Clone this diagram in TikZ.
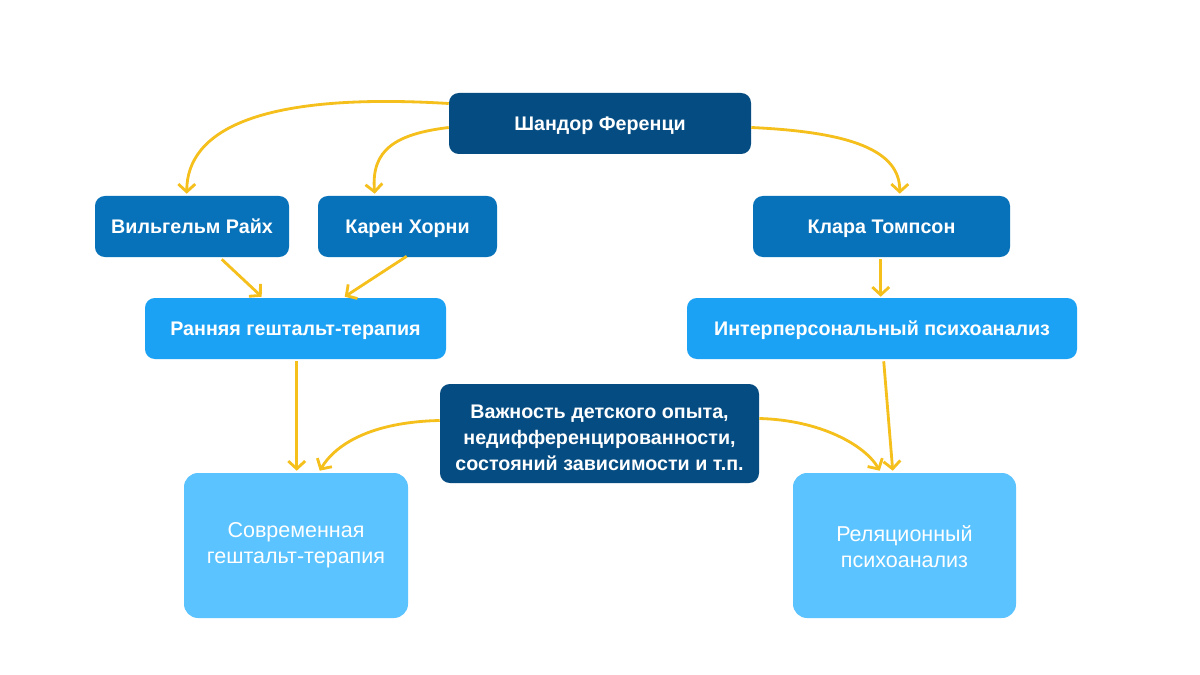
\documentclass[tikz,border=0pt]{standalone}
\usepackage{fontspec}
\setmainfont{Liberation Sans}
\usetikzlibrary{arrows.meta,calc}
\definecolor{cnavy}{HTML}{044C82}
\definecolor{cmid}{HTML}{0772BA}
\definecolor{clight}{HTML}{1CA2F4}
\definecolor{cpale}{HTML}{5BC3FF}
\definecolor{carrow}{HTML}{F5BF1C}
\begin{document}
\begin{tikzpicture}[x=0.025cm,y=-0.025cm,
  box/.style={rectangle,rounded corners=7pt,text=white,inner sep=0pt,align=center,
     font=\bfseries\fontsize{14}{18.5}\selectfont},
  oneline/.style={text height=10pt,text depth=0pt},
  navybox/.style={box,fill=cnavy},
  midbox/.style={box,fill=cmid,oneline},
  lightbox/.style={box,fill=clight,oneline},
  palebox/.style={box,fill=cpale,rounded corners=10pt,font=\fontsize{15.3}{18.5}\selectfont},
  arr/.style={draw=carrow,line width=2pt,-{Straight Barb[length=5.5pt,width=12pt]}}]
\useasboundingbox[fill=white] (0,0) rectangle (1200,675);
\node[navybox,oneline,minimum width=302*0.025cm,minimum height=61*0.025cm] (fer) at (600,123.5) {Шандор Ференци};
\node[midbox,minimum width=194*0.025cm,minimum height=61*0.025cm] (raih) at (192,226.5) {Вильгельм Райх};
\node[midbox,minimum width=179*0.025cm,minimum height=61*0.025cm] (horn) at (407.5,226.5) {Карен Хорни};
\node[midbox,minimum width=257*0.025cm,minimum height=61*0.025cm] (tomp) at (881.5,226.5) {Клара Томпсон};
\node[lightbox,minimum width=301*0.025cm,minimum height=61*0.025cm] (early) at (295.5,328.5) {Ранняя гештальт-терапия};
\node[lightbox,minimum width=390*0.025cm,minimum height=61*0.025cm] (inter) at (882,328.5) {Интерперсональный психоанализ};
\node[navybox,minimum width=319*0.025cm,minimum height=99*0.025cm] (vazh) at (599.5,433.5) {\rule{0pt}{16pt}Важность детского опыта,\\недифференцированности,\\состояний зависимости и т.п.};
\node[palebox,minimum width=224*0.025cm,minimum height=145*0.025cm] (mod) at (296,545.5) {Современная\\гештальт-терапия};
\node[palebox,minimum width=223*0.025cm,minimum height=145*0.025cm] (rel) at (904.5,545.5) {\rule{0pt}{13pt}Реляционный\\психоанализ};

\draw[arr] ($(fer.west)+(0,-20)$) .. controls (260,92) and (187,130) .. ($(raih.north west)+(92,-2)$);
\draw[arr] ($(fer.west)+(0,4)$) .. controls (395,134) and (371,150) .. ($(horn.north west)+(57,-2)$);
\draw[arr] ($(fer.east)+(0,4)$) .. controls (850,132) and (900,150) .. ($(tomp.north west)+(147,-2)$);
\draw[arr] ($(raih.south west)+(127,2)$) -- ($(early.north west)+(117,-1)$);
\draw[arr] ($(horn.south west)+(89,-1)$) -- ($(early.north west)+(200,-1)$);
\draw[arr] ($(tomp.south west)+(128,2)$) -- ($(inter.north west)+(194,-1)$);
\draw[arr] ($(early.south west)+(152,2)$) -- ($(mod.north west)+(113,-2)$);
\draw[arr] ($(vazh.west)+(0,-13)$) .. controls (370,422) and (335,445) .. ($(mod.north west)+(136,-2)$);
\draw[arr] ($(vazh.east)+(0,-15)$) .. controls (820,420) and (865,445) .. ($(rel.north west)+(87,-2)$);
\draw[arr] ($(inter.south west)+(197,2)$) -- ($(rel.north west)+(100,-2)$);
\end{tikzpicture}
\end{document}
